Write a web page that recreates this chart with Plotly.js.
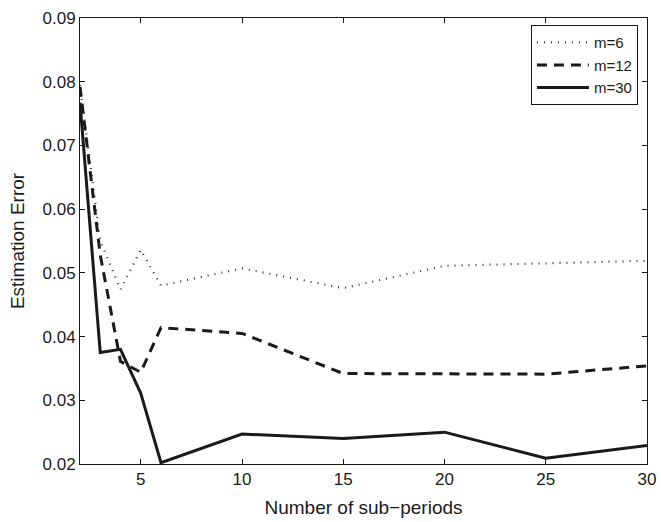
<!DOCTYPE html>
<html>
<head>
<meta charset="utf-8">
<script src="https://cdn.plot.ly/plotly-3.0.1.min.js"></script>
<style>html,body{margin:0;padding:0;background:#fff;}#chart{width:661px;height:522px;}</style>
</head>
<body>
<div id="chart"></div>
<script>
const subPeriods = [2, 3, 4, 5, 6, 10, 15, 20, 25, 30];
const errM6  = [0.0795, 0.0550, 0.0474, 0.0536, 0.0480, 0.0507, 0.0476, 0.0511, 0.0515, 0.0519];
const errM12 = [0.0792, 0.0528, 0.0361, 0.0344, 0.0414, 0.0405, 0.0342, 0.0342, 0.0341, 0.0354];
const errM30 = [0.0767, 0.0375, 0.0380, 0.0311, 0.0202, 0.0247, 0.0240, 0.0250, 0.0209, 0.0229];
const seriesNames = ['m=6', 'm=12', 'm=30'];
const xTicks = [5, 10, 15, 20, 25, 30];
const yTicks = [0.02, 0.03, 0.04, 0.05, 0.06, 0.07, 0.08, 0.09];

const font = 'Liberation Sans, Arial, Helvetica, sans-serif';
const traces = [
  {x: subPeriods, y: errM6, name: seriesNames[0], mode: 'lines',
   line: {color: '#333', width: 2.2, dash: '1px,6px'}},
  {x: subPeriods, y: errM12, name: seriesNames[1], mode: 'lines',
   line: {color: '#1a1a1a', width: 3, dash: '10px,7px'}},
  {x: subPeriods, y: errM30, name: seriesNames[2], mode: 'lines',
   line: {color: '#1a1a1a', width: 3}}
];
const axisCommon = {
  showgrid: false, zeroline: false, showline: true, linecolor: '#1a1a1a', linewidth: 1,
  mirror: 'allticks', ticks: 'inside', ticklen: 5, tickcolor: '#1a1a1a', tickwidth: 1,
  tickfont: {family: font, size: 17, color: '#1a1a1a'}
};
const layout = {
  width: 661, height: 522,
  margin: {l: 80, r: 14, t: 18, b: 58},
  paper_bgcolor: '#fff', plot_bgcolor: '#fff',
  font: {family: font, color: '#1a1a1a'},
  showlegend: true,
  legend: {x: 0.984, y: 0.984, xanchor: 'right', yanchor: 'top',
           bgcolor: '#fff', bordercolor: '#1a1a1a', borderwidth: 1,
           font: {family: font, size: 15, color: '#1a1a1a'}, itemwidth: 52,
           tracegroupgap: 0},
  xaxis: Object.assign({}, axisCommon, {
    range: [2, 30], tickvals: xTicks, ticktext: xTicks.map(String),
    title: {text: 'Number of sub−periods', font: {family: font, size: 19, color: '#1a1a1a'}, standoff: 12}
  }),
  yaxis: Object.assign({}, axisCommon, {
    range: [0.02, 0.09], tickvals: yTicks, ticktext: yTicks.map(v => v.toFixed(2)),
    title: {text: 'Estimation Error', font: {family: font, size: 19, color: '#1a1a1a'}, standoff: 12}
  })
};
Plotly.newPlot('chart', traces, layout, {displayModeBar: false, staticPlot: true});
</script>
</body>
</html>
